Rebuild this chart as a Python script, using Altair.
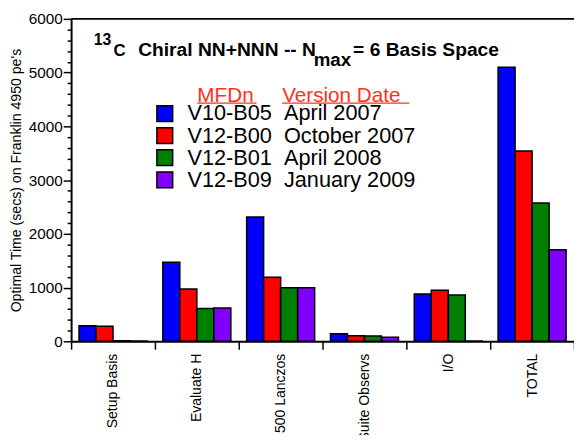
import altair as alt
import pandas as pd

categories = ["Setup Basis", "Evaluate H", "500 Lanczos", "Suite Observs", "I/O", "TOTAL"]
versions = ["V10-B05", "V12-B00", "V12-B01", "V12-B09"]
dates = ["April 2007", "October 2007", "April 2008", "January 2009"]
colors = ["#0000FF", "#FF0000", "#008000", "#7F00FF"]

v10_b05 = [290, 1470, 2315, 140, 880, 5100]
v12_b00 = [280, 975, 1190, 105, 950, 3540]
v12_b01 = [10, 610, 995, 100, 860, 2575]
v12_b09 = [5, 620, 995, 75, 5, 1705]

series = [v10_b05, v12_b00, v12_b01, v12_b09]
labels = [v + "\u00a0\u00a0" + d for v, d in zip(versions, dates)]

rows = []
for lab, vals in zip(labels, series):
    for c, v in zip(categories, vals):
        rows.append({"category": c, "label": lab, "value": v})
df = pd.DataFrame(rows)

FONT = "Liberation Sans"
W, H = 510, 327

bars = alt.Chart(df).mark_bar(stroke="black", strokeWidth=1.5).encode(
    x=alt.X(
        "category:N",
        sort=categories,
        scale=alt.Scale(paddingInner=0, paddingOuter=0),
        axis=alt.Axis(
            title=None,
            labelAngle=-90,
            labelAlign="right",
            labelBaseline="middle",
            labelFont=FONT,
            labelFontSize=14.2,
            labelColor="black",
            labelPadding=4,
            tickBand="extent",
            tickSize=8,
            tickWidth=1.5,
            tickColor="black",
            domainColor="black",
            domainWidth=2,
        ),
    ),
    xOffset=alt.XOffset(
        "label:N", sort=labels, scale=alt.Scale(paddingInner=0, paddingOuter=0.464)
    ),
    y=alt.Y(
        "value:Q",
        scale=alt.Scale(domain=[0, 6000], nice=False),
        axis=alt.Axis(
            title="Optimal Time (secs) on Franklin 4950 pe's",
            titleFont=FONT,
            titleFontSize=14.3,
            titleFontWeight="normal",
            titleColor="black",
            titlePadding=5,
            values=list(range(0, 6001, 200)),
            format="d",
            labelExpr="datum.value % 1000 === 0 ? datum.label : ''",
            labelFont=FONT,
            labelFontSize=15.5,
            labelColor="black",
            labelPadding=1,
            tickSize={"condition": {"test": "datum.value % 1000 === 0", "value": 8}, "value": 4},
            tickWidth=1.5,
            tickColor="black",
            domainColor="black",
            domainWidth=2,
            grid=False,
        ),
    ),
    color=alt.Color(
        "label:N",
        scale=alt.Scale(domain=labels, range=colors),
        legend=alt.Legend(
            orient="none",
            legendX=84,
            legendY=85,
            title=None,
            symbolType="square",
            symbolSize=256,
            symbolStrokeColor="black",
            symbolStrokeWidth=1.5,
            symbolOpacity=1,
            labelFont=FONT,
            labelFontSize=22,
            labelColor="black",
            labelOffset=12,
            labelLimit=400,
            rowPadding=0.4,
            padding=0,
        ),
    ),
)

one = alt.Data(values=[{}])

top_line = alt.Chart(one).mark_rule(color="black", strokeWidth=2).encode(
    x=alt.value(0), x2=alt.value(W), y=alt.value(0)
)


def txt(s, x, y, size, weight="bold", color="black"):
    return alt.Chart(one).mark_text(
        text=s, align="left", baseline="alphabetic", font=FONT,
        fontSize=size, fontWeight=weight, color=color,
    ).encode(x=alt.value(x), y=alt.value(y))


title_parts = [
    txt("13", 23, 26, 16),
    txt("C", 43, 37.5, 17),
    txt("Chiral NN+NNN -- N", 68, 37.5, 19.5),
    txt("max", 246, 47.5, 19),
    txt("= 6 Basis Space", 286, 37.5, 19.5),
]

HEAD = "#FF3020"
header = [
    txt("MFDn", 128, 84, 21, "normal", HEAD),
    txt("Version Date", 214, 84, 21, "normal", HEAD),
    alt.Chart(one).mark_rule(color=HEAD, strokeWidth=1.2).encode(
        x=alt.value(128), x2=alt.value(188), y=alt.value(85.5)
    ),
    alt.Chart(one).mark_rule(color=HEAD, strokeWidth=1.2).encode(
        x=alt.value(214), x2=alt.value(343), y=alt.value(85.5)
    ),
]

chart = alt.layer(bars, top_line, *title_parts, *header).properties(
    width=W,
    height=H,
    autosize=alt.AutoSizeParams(type="none"),
    padding={"left": 64, "top": 8, "right": 0, "bottom": 92},
).configure_view(stroke=None)

chart.save("out.html", embed_options={"renderer": "svg", "actions": False})
